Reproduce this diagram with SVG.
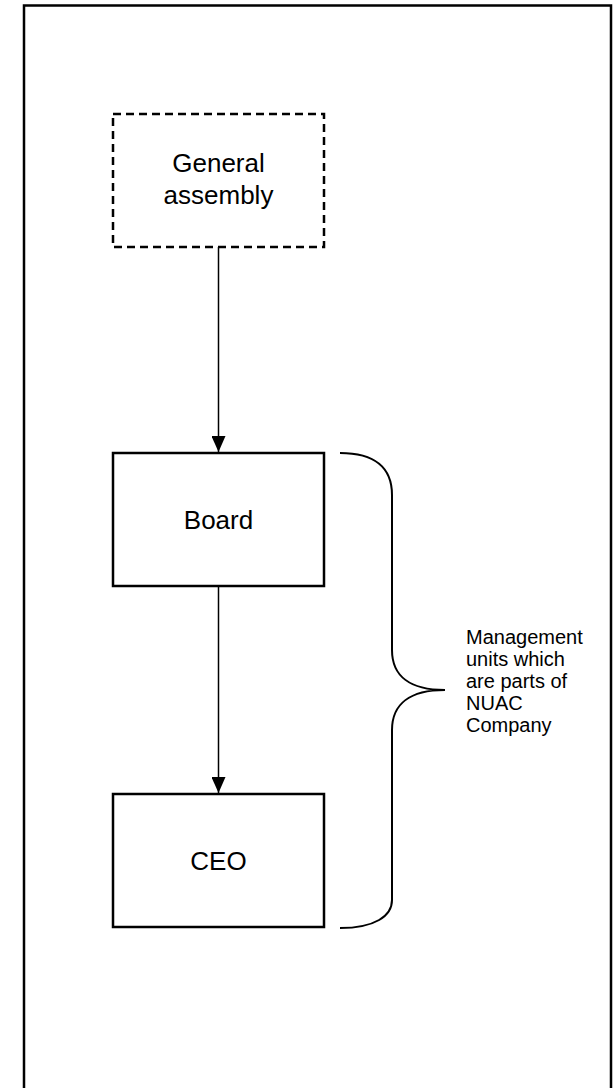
<svg xmlns="http://www.w3.org/2000/svg" width="614" height="1088" viewBox="0 0 614 1088">
  <style>
    .box { fill: #ffffff; stroke: #000000; stroke-width: 2.5; }
    .dashed { stroke-dasharray: 8 5; }
    .label { font-family: "Liberation Sans", Arial, sans-serif; font-size: 26px; fill: #000000; text-anchor: middle; }
    .note { font-family: "Liberation Sans", Arial, sans-serif; font-size: 20px; fill: #000000; }
    .edge { stroke: #000000; stroke-width: 1.5; fill: none; }
    .brace { stroke: #000000; stroke-width: 2; fill: none; }
  </style>
  <defs>
    <marker id="arrow" markerWidth="16" markerHeight="14" refX="16" refY="7" orient="auto" markerUnits="userSpaceOnUse">
      <path d="M0,0 L16,7 L0,14 Z" fill="#000000"/>
    </marker>
  </defs>

  <rect width="614" height="1088" fill="#ffffff"/>
  <!-- page frame -->
  <rect x="24" y="5.5" width="587" height="1100" fill="none" stroke="#000000" stroke-width="2.5"/>

  <g id="connectors">
    <line class="edge" x1="218.5" y1="247" x2="218.5" y2="452" marker-end="url(#arrow)"/>
    <line class="edge" x1="218.5" y1="587" x2="218.5" y2="793" marker-end="url(#arrow)"/>
  </g>

  <g id="general-assembly">
    <rect class="box dashed" x="113" y="114" width="211" height="133"/>
    <text class="label" x="218.5" y="172">General</text>
    <text class="label" x="218.5" y="204">assembly</text>
  </g>

  <g id="board">
    <rect class="box" x="113" y="453" width="211" height="133"/>
    <text class="label" x="218.5" y="529">Board</text>
  </g>

  <g id="ceo">
    <rect class="box" x="113" y="794" width="211" height="133"/>
    <text class="label" x="218.5" y="870">CEO</text>
  </g>

  <g id="management-units">
    <path class="brace" d="M340,453 C375,453 392,468 392,495 L392,650 C392,676 410,690 445,690 C410,690 392,704 392,730 L392,900 C392,916 375,928 340,928"/>
    <text class="note">
      <tspan x="466" y="644">Management</tspan>
      <tspan x="466" y="666">units which</tspan>
      <tspan x="466" y="688">are parts of</tspan>
      <tspan x="466" y="710">NUAC</tspan>
      <tspan x="466" y="732">Company</tspan>
    </text>
  </g>
</svg>
